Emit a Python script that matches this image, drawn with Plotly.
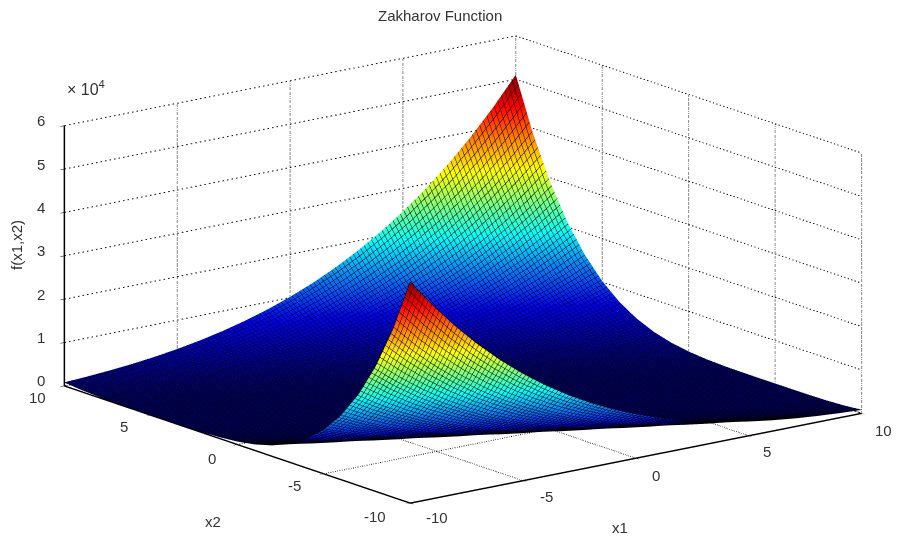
import plotly.graph_objects as go

x1_values = list(range(-10, 11))
x2_values = list(range(-10, 11))
z_rows = [
 [51050,44596,38776,33546,28866,24695,20996,17731,14866,12366,10200,8336,6746,5401,4276,3345,2586,1976,1496,1126,850],
 [38793,33559,28875,24700,20997,17728,14859,12355,10185,8317,6723,5374,4245,3310,2547,1933,1449,1075,795,592,453],
 [28894,24715,21008,17735,14862,12354,10180,8308,6710,5357,4224,3285,2518,1900,1412,1034,750,543,400,307,254],
 [21029,17752,14875,12363,10185,8309,6707,5350,4213,3270,2499,1877,1385,1003,715,504,357,260,203,175,169],
 [14898,12382,10200,8320,6714,5353,4212,3265,2490,1864,1368,982,690,475,324,223,162,130,120,124,138],
 [10225,8341,6731,5366,4221,3270,2491,1861,1361,971,675,456,301,196,131,95,81,81,91,106,125],
 [6758,5389,4240,3285,2502,1868,1364,970,670,447,288,179,110,70,52,48,54,65,80,97,118],
 [4269,3310,2523,1885,1377,979,675,448,285,172,99,55,33,25,27,34,45,58,75,97,129],
 [2554,1912,1400,998,690,459,292,175,98,50,24,12,10,13,20,29,42,60,88,130,194],
 [1433,1027,715,480,309,188,107,55,25,9,3,2,5,10,19,33,57,95,155,244,373],
 [750,511,336,211,126,70,36,16,6,1,0,1,6,16,36,70,126,211,336,511,750],
 [373,244,155,95,57,33,19,10,5,2,3,9,25,55,107,188,309,480,715,1027,1433],
 [194,130,88,60,42,29,20,13,10,12,24,50,98,175,292,459,690,998,1400,1912,2554],
 [129,97,75,58,45,34,27,25,33,55,99,172,285,448,675,979,1377,1885,2523,3310,4269],
 [118,97,80,65,54,48,52,70,110,179,288,447,670,970,1364,1868,2502,3285,4240,5389,6758],
 [125,106,91,81,81,95,131,196,301,456,675,971,1361,1861,2491,3270,4221,5366,6731,8341,10225],
 [138,124,120,130,162,223,324,475,690,982,1368,1864,2490,3265,4212,5353,6714,8320,10200,12382,14898],
 [169,175,203,260,357,504,715,1003,1385,1877,2499,3270,4213,5350,6707,8309,10185,12363,14875,17752,21029],
 [254,307,400,543,750,1034,1412,1900,2518,3285,4224,5357,6710,8308,10180,12354,14862,17735,21008,24715,28894],
 [453,592,795,1075,1449,1933,2547,3310,4245,5374,6723,8317,10185,12355,14859,17728,20997,24700,28875,33559,38793],
 [850,1126,1496,1976,2586,3345,4276,5401,6746,8336,10200,12366,14866,17731,20996,24695,28866,33546,38776,44596,51050],
]
xy_ticks = [-10, -5, 0, 5, 10]
z_ticks = [0, 10000, 20000, 30000, 40000, 50000, 60000]
z_tick_text = ["0", "1", "2", "3", "4", "5", "6"]

jet = [[0, "rgb(0,0,143)"], [0.125, "rgb(0,0,255)"], [0.375, "rgb(0,255,255)"],
       [0.625, "rgb(255,255,0)"], [0.875, "rgb(255,0,0)"], [1, "rgb(128,0,0)"]]

fig = go.Figure()
fig.add_trace(go.Surface(
    x=x1_values, y=x2_values, z=z_rows, colorscale=jet, cmin=0, cmax=51050,
    showscale=False, hoverinfo="skip",
    lighting=dict(ambient=1, diffuse=0, specular=0, fresnel=0, roughness=1),
    contours=dict(
        x=dict(show=True, start=-10, end=10.01, size=0.16, color="black", width=2),
        y=dict(show=True, start=-10, end=10.01, size=0.16, color="black", width=2),
        z=dict(show=False),
    ),
))

def dotted(xs, ys, zs):
    fig.add_trace(go.Scatter3d(x=xs, y=ys, z=zs, mode="lines", hoverinfo="skip", showlegend=False,
                               line=dict(color="#111111", width=2, dash="dot")))

lo, hi = xy_ticks[0], xy_ticks[-1]
ztop = z_ticks[-1]
for t in z_ticks:
    dotted([lo, hi, hi], [hi, hi, lo], [t, t, t])
for t in xy_ticks:
    dotted([t, t], [hi, hi], [0, ztop])
    dotted([hi, hi], [t, t], [0, ztop])
    dotted([t, t], [lo, hi], [0, 0])
    dotted([lo, hi], [t, t], [0, 0])

FONT = "Liberation Sans, Arial, sans-serif"
axis_font = dict(family=FONT, size=15, color="#333333")

def axis(vals, rng):
    return dict(title=dict(text=""), tickvals=vals, range=rng, showticklabels=False,
                showgrid=False, zeroline=False, showbackground=False,
                showline=True, linecolor="black", linewidth=3, ticks="outside", ticklen=5,
                tickcolor="black", showspikes=False, autorange=False)

scene_labels = []
x1_shift = [(27, -14), (23, -16), (20, -17), (18, -16), (22, -17)]
x2_shift = [(-35, -13), (-29, -12), (-25, -14), (-27, -11), (-27, -12)]
for t, (dx, dy) in zip(xy_ticks, x1_shift):
    scene_labels.append(dict(x=t, y=lo, z=0, text=str(t), xshift=dx, yshift=dy, showarrow=False, font=axis_font))
for t, (dx, dy) in zip(xy_ticks, x2_shift):
    scene_labels.append(dict(x=lo, y=t, z=0, text=str(t), xshift=dx, yshift=dy, showarrow=False, font=axis_font))
for t, s in zip(z_ticks, z_tick_text):
    scene_labels.append(dict(x=lo, y=hi, z=t, text=s, xshift=-23, yshift=5, showarrow=False, font=axis_font))

def paper_text(text, px, py, size=15, angle=0):
    return dict(text=text, x=px / 899, y=1 - py / 539, xref="paper", yref="paper", showarrow=False,
                xanchor="center", yanchor="middle",
                textangle=angle, font=dict(family=FONT, size=size, color="#333333"))

fig.update_layout(
    width=899, height=539, margin=dict(l=0, r=0, t=0, b=0), showlegend=False,
    paper_bgcolor="white",
    scene=dict(
        domain=dict(x=[0.03, 1], y=[0, 1]),
        xaxis=axis(xy_ticks, [lo, hi]),
        yaxis=axis(xy_ticks, [lo, hi]),
        zaxis=axis(z_ticks, [0, ztop]),
        aspectmode="manual", aspectratio=dict(x=2.11, y=2.11, z=1.0),
        camera=dict(projection=dict(type="orthographic"),
                    eye=dict(x=-0.95, y=-1.24, z=0.42),
                    center=dict(x=0, y=0, z=0), up=dict(x=0, y=0, z=1)),
        annotations=scene_labels,
    ),
    annotations=[
        paper_text("Zakharov Function", 440, 15),
        paper_text("× 10<sup>4</sup>", 86, 88, size=16),
        paper_text("x1", 620, 527),
        paper_text("x2", 213, 521),
        paper_text("f(x1,x2)", 16, 245, angle=-90),
    ],
)
fig.write_html("out.html", config={"displayModeBar": False},
               post_script="document.body.style.margin='0';")
